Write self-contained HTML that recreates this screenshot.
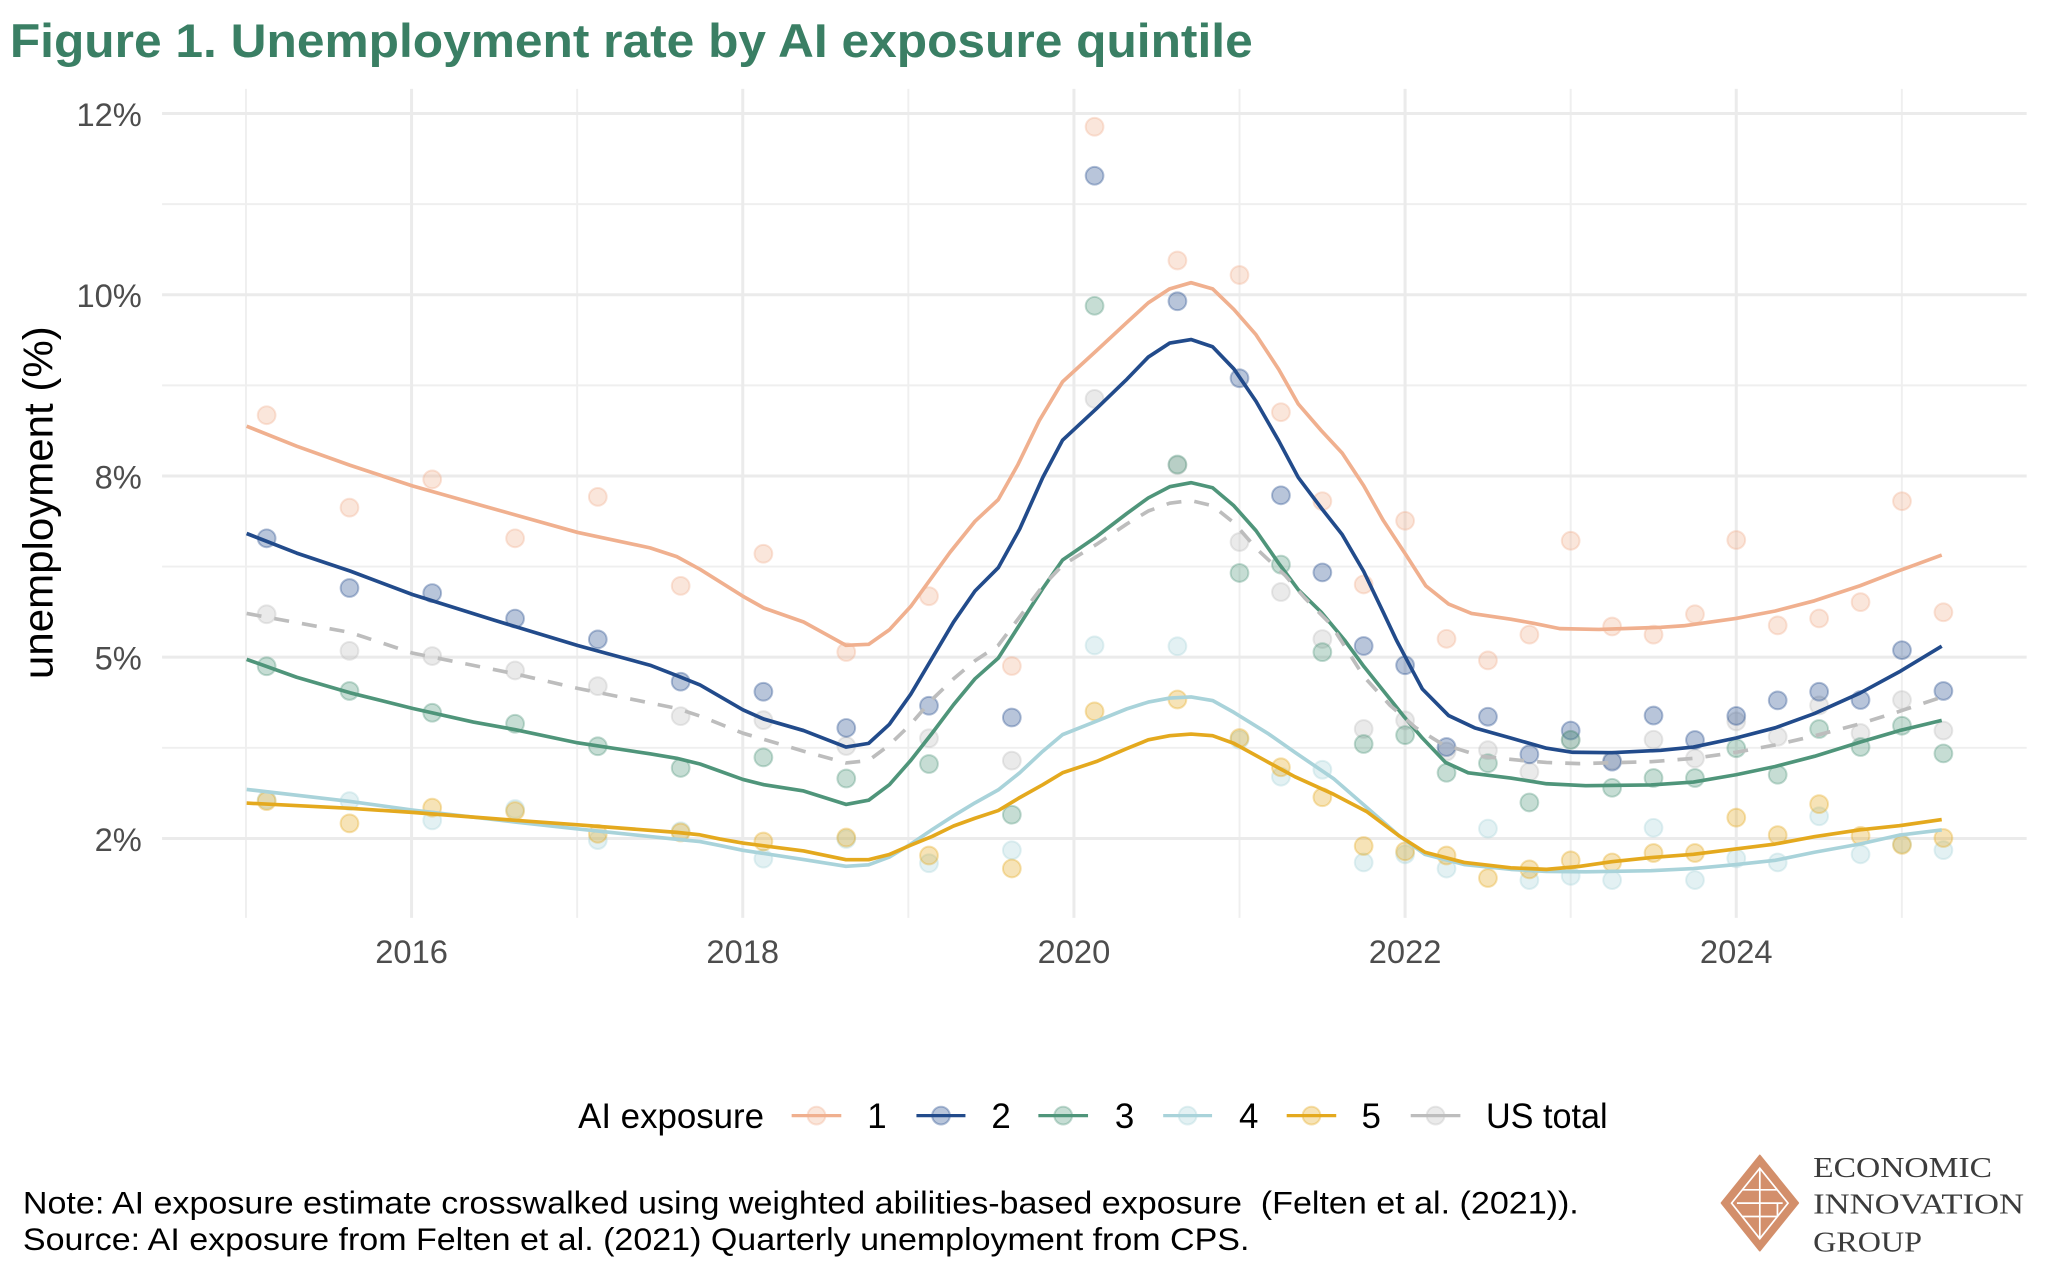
<!DOCTYPE html>
<html>
<head>
<meta charset="utf-8">
<style>
html,body{margin:0;padding:0;background:#fff;}
svg{display:block;}
.g1{stroke:#EBEBEB;stroke-width:2.3;}
.g2{stroke:#EFEFEF;stroke-width:1.5;}
.ax{font-family:"Liberation Sans",Arial,sans-serif;font-size:25px;fill:#4D4D4D;}
.ln{fill:none;stroke-width:2.8;stroke-linejoin:round;stroke-linecap:butt;}
.d1 circle{fill:#F0B08F;stroke:#F0B08F;}
.d2 circle{fill:#224B8B;stroke:#224B8B;}
.d3 circle{fill:#4F957A;stroke:#4F957A;}
.d4 circle{fill:#A9D3DA;stroke:#A9D3DA;}
.d5 circle{fill:#E4A91E;stroke:#E4A91E;}
.d6 circle{fill:#BDBDBD;stroke:#BDBDBD;}
.dd circle{fill-opacity:.32;stroke-opacity:.35;stroke-width:1.5;r:6.8px;}
</style>
</head>
<body>
<svg width="2048" height="1280" viewBox="0 0 1567 979.4" xmlns="http://www.w3.org/2000/svg">
<rect x="0" y="0" width="1567" height="979.4" fill="#fff"/>

<!-- Title -->
<text x="7.5" y="43.7" font-family="Liberation Sans, Arial, sans-serif" font-weight="bold" font-size="36" fill="#3A7F64" textLength="951" lengthAdjust="spacingAndGlyphs">Figure 1. Unemployment rate by AI exposure quintile</text>

<!-- Minor gridlines -->
<g class="g2">
<line x1="124" x2="1550.7" y1="156.2" y2="156.2"/>
<line x1="124" x2="1550.7" y1="294.9" y2="294.9"/>
<line x1="124" x2="1550.7" y1="433.5" y2="433.5"/>
<line x1="124" x2="1550.7" y1="572.2" y2="572.2"/>
<line y1="68" y2="702.3" x1="188.2" x2="188.2"/>
<line y1="68" y2="702.3" x1="441.6" x2="441.6"/>
<line y1="68" y2="702.3" x1="695" x2="695"/>
<line y1="68" y2="702.3" x1="948.4" x2="948.4"/>
<line y1="68" y2="702.3" x1="1201.8" x2="1201.8"/>
<line y1="68" y2="702.3" x1="1455.2" x2="1455.2"/>
</g>
<!-- Major gridlines -->
<g class="g1">
<line x1="124" x2="1550.7" y1="86.85" y2="86.85"/>
<line x1="124" x2="1550.7" y1="225.5" y2="225.5"/>
<line x1="124" x2="1550.7" y1="364.2" y2="364.2"/>
<line x1="124" x2="1550.7" y1="502.8" y2="502.8"/>
<line x1="124" x2="1550.7" y1="641.6" y2="641.6"/>
<line y1="68" y2="702.3" x1="314.9" x2="314.9"/>
<line y1="68" y2="702.3" x1="568.3" x2="568.3"/>
<line y1="68" y2="702.3" x1="821.7" x2="821.7"/>
<line y1="68" y2="702.3" x1="1075.1" x2="1075.1"/>
<line y1="68" y2="702.3" x1="1328.5" x2="1328.5"/>
</g>

<!-- Y axis labels -->
<g class="ax" text-anchor="end">
<text x="108.5" y="96.4">12%</text>
<text x="108.5" y="235">10%</text>
<text x="108.5" y="373.7">8%</text>
<text x="108.5" y="512.3">5%</text>
<text x="108.5" y="651">2%</text>
</g>
<!-- X axis labels -->
<g class="ax" text-anchor="middle">
<text x="314.9" y="737">2016</text>
<text x="568.3" y="737">2018</text>
<text x="821.7" y="737">2020</text>
<text x="1075.1" y="737">2022</text>
<text x="1328.5" y="737">2024</text>
</g>
<!-- Y axis title -->
<text transform="translate(40,384.6) rotate(-90)" text-anchor="middle" font-family="Liberation Sans, Arial, sans-serif" font-size="32" fill="#000" textLength="270" lengthAdjust="spacingAndGlyphs">unemployment (%)</text>

<!-- Dots -->
<g class="dd d6">
<circle r="6.8" cx="204.0" cy="470"/><circle r="6.8" cx="267.4" cy="498"/><circle r="6.8" cx="330.7" cy="502"/><circle r="6.8" cx="394.1" cy="513"/><circle r="6.8" cx="457.4" cy="525"/><circle r="6.8" cx="520.8" cy="548"/><circle r="6.8" cx="584.1" cy="551"/><circle r="6.8" cx="647.5" cy="570.8"/><circle r="6.8" cx="710.8" cy="564.9"/><circle r="6.8" cx="774.2" cy="582"/><circle r="6.8" cx="837.5" cy="305.2"/><circle r="6.8" cx="900.9" cy="356"/><circle r="6.8" cx="948.4" cy="414.7"/><circle r="6.8" cx="980.1" cy="453"/><circle r="6.8" cx="1011.8" cy="489"/><circle r="6.8" cx="1043.4" cy="557.8"/><circle r="6.8" cx="1075.1" cy="551.2"/><circle r="6.8" cx="1106.8" cy="575"/><circle r="6.8" cx="1138.5" cy="574"/><circle r="6.8" cx="1170.2" cy="590.6"/><circle r="6.8" cx="1201.8" cy="566"/><circle r="6.8" cx="1233.5" cy="581.8"/><circle r="6.8" cx="1265.2" cy="566"/><circle r="6.8" cx="1296.9" cy="580.3"/><circle r="6.8" cx="1328.5" cy="552"/><circle r="6.8" cx="1360.2" cy="563.7"/><circle r="6.8" cx="1391.9" cy="539.7"/><circle r="6.8" cx="1423.6" cy="560.9"/><circle r="6.8" cx="1455.3" cy="535.6"/><circle r="6.8" cx="1487.0" cy="559"/>
</g>
<g class="dd d1">
<circle r="6.8" cx="204.0" cy="317.7"/><circle r="6.8" cx="267.4" cy="388.4"/><circle r="6.8" cx="330.7" cy="366.8"/><circle r="6.8" cx="394.1" cy="411.9"/><circle r="6.8" cx="457.4" cy="380.2"/><circle r="6.8" cx="520.8" cy="448.3"/><circle r="6.8" cx="584.1" cy="423.7"/><circle r="6.8" cx="647.5" cy="498.9"/><circle r="6.8" cx="710.8" cy="456.2"/><circle r="6.8" cx="774.2" cy="509.6"/><circle r="6.8" cx="837.5" cy="97"/><circle r="6.8" cx="900.9" cy="199.3"/><circle r="6.8" cx="948.4" cy="210.4"/><circle r="6.8" cx="980.1" cy="315.4"/><circle r="6.8" cx="1011.8" cy="383.5"/><circle r="6.8" cx="1043.4" cy="447.2"/><circle r="6.8" cx="1075.1" cy="398.5"/><circle r="6.8" cx="1106.8" cy="488.8"/><circle r="6.8" cx="1138.5" cy="505.3"/><circle r="6.8" cx="1170.2" cy="485.6"/><circle r="6.8" cx="1201.8" cy="413.8"/><circle r="6.8" cx="1233.5" cy="479.4"/><circle r="6.8" cx="1265.2" cy="485.6"/><circle r="6.8" cx="1296.9" cy="470"/><circle r="6.8" cx="1328.5" cy="413.2"/><circle r="6.8" cx="1360.2" cy="478.5"/><circle r="6.8" cx="1391.9" cy="473.2"/><circle r="6.8" cx="1423.6" cy="460.7"/><circle r="6.8" cx="1455.3" cy="383.5"/><circle r="6.8" cx="1487.0" cy="468.5"/>
</g>
<g class="dd d2">
<circle r="6.8" cx="204.0" cy="411.9"/><circle r="6.8" cx="267.4" cy="449.9"/><circle r="6.8" cx="330.7" cy="453.8"/><circle r="6.8" cx="394.1" cy="473.3"/><circle r="6.8" cx="457.4" cy="489.2"/><circle r="6.8" cx="520.8" cy="521.6"/><circle r="6.8" cx="584.1" cy="529.3"/><circle r="6.8" cx="647.5" cy="557"/><circle r="6.8" cx="710.8" cy="540"/><circle r="6.8" cx="774.2" cy="549"/><circle r="6.8" cx="837.5" cy="134.5"/><circle r="6.8" cx="900.9" cy="230.5"/><circle r="6.8" cx="948.4" cy="289.4"/><circle r="6.8" cx="980.1" cy="379"/><circle r="6.8" cx="1011.8" cy="438"/><circle r="6.8" cx="1043.4" cy="494.3"/><circle r="6.8" cx="1075.1" cy="509"/><circle r="6.8" cx="1106.8" cy="571.6"/><circle r="6.8" cx="1138.5" cy="548.4"/><circle r="6.8" cx="1170.2" cy="577.2"/><circle r="6.8" cx="1201.8" cy="559"/><circle r="6.8" cx="1233.5" cy="582.8"/><circle r="6.8" cx="1265.2" cy="547.5"/><circle r="6.8" cx="1296.9" cy="566.2"/><circle r="6.8" cx="1328.5" cy="547.8"/><circle r="6.8" cx="1360.2" cy="535.9"/><circle r="6.8" cx="1391.9" cy="529.3"/><circle r="6.8" cx="1423.6" cy="535.6"/><circle r="6.8" cx="1455.3" cy="497.5"/><circle r="6.8" cx="1487.0" cy="528.7"/>
</g>
<g class="dd d3">
<circle r="6.8" cx="204.0" cy="509.8"/><circle r="6.8" cx="267.4" cy="528.7"/><circle r="6.8" cx="330.7" cy="545.4"/><circle r="6.8" cx="394.1" cy="553.8"/><circle r="6.8" cx="457.4" cy="571"/><circle r="6.8" cx="520.8" cy="587.6"/><circle r="6.8" cx="584.1" cy="579.5"/><circle r="6.8" cx="647.5" cy="595.7"/><circle r="6.8" cx="710.8" cy="584.6"/><circle r="6.8" cx="774.2" cy="623.4"/><circle r="6.8" cx="837.5" cy="234"/><circle r="6.8" cx="900.9" cy="355.4"/><circle r="6.8" cx="948.4" cy="438.4"/><circle r="6.8" cx="980.1" cy="432"/><circle r="6.8" cx="1011.8" cy="499"/><circle r="6.8" cx="1043.4" cy="569.3"/><circle r="6.8" cx="1075.1" cy="562.5"/><circle r="6.8" cx="1106.8" cy="591.3"/><circle r="6.8" cx="1138.5" cy="584"/><circle r="6.8" cx="1170.2" cy="614"/><circle r="6.8" cx="1201.8" cy="566.2"/><circle r="6.8" cx="1233.5" cy="602.8"/><circle r="6.8" cx="1265.2" cy="595.3"/><circle r="6.8" cx="1296.9" cy="595.3"/><circle r="6.8" cx="1328.5" cy="572.5"/><circle r="6.8" cx="1360.2" cy="592.8"/><circle r="6.8" cx="1391.9" cy="557.8"/><circle r="6.8" cx="1423.6" cy="571.6"/><circle r="6.8" cx="1455.3" cy="555.3"/><circle r="6.8" cx="1487.0" cy="576.5"/>
</g>
<g class="dd d4">
<circle r="6.8" cx="204.0" cy="612"/><circle r="6.8" cx="267.4" cy="613"/><circle r="6.8" cx="330.7" cy="627.7"/><circle r="6.8" cx="394.1" cy="619"/><circle r="6.8" cx="457.4" cy="642.8"/><circle r="6.8" cx="520.8" cy="636"/><circle r="6.8" cx="584.1" cy="657"/><circle r="6.8" cx="647.5" cy="642"/><circle r="6.8" cx="710.8" cy="660.5"/><circle r="6.8" cx="774.2" cy="650.6"/><circle r="6.8" cx="837.5" cy="493.8"/><circle r="6.8" cx="900.9" cy="494.5"/><circle r="6.8" cx="948.4" cy="566"/><circle r="6.8" cx="980.1" cy="594.3"/><circle r="6.8" cx="1011.8" cy="589"/><circle r="6.8" cx="1043.4" cy="659.9"/><circle r="6.8" cx="1075.1" cy="653.7"/><circle r="6.8" cx="1106.8" cy="664.6"/><circle r="6.8" cx="1138.5" cy="634"/><circle r="6.8" cx="1170.2" cy="673.4"/><circle r="6.8" cx="1201.8" cy="670.2"/><circle r="6.8" cx="1233.5" cy="673.4"/><circle r="6.8" cx="1265.2" cy="633.4"/><circle r="6.8" cx="1296.9" cy="673.4"/><circle r="6.8" cx="1328.5" cy="656.8"/><circle r="6.8" cx="1360.2" cy="659.9"/><circle r="6.8" cx="1391.9" cy="624.6"/><circle r="6.8" cx="1423.6" cy="653.7"/><circle r="6.8" cx="1455.3" cy="645.8"/><circle r="6.8" cx="1487.0" cy="650.5"/>
</g>
<g class="dd d5">
<circle r="6.8" cx="204.0" cy="613"/><circle r="6.8" cx="267.4" cy="630"/><circle r="6.8" cx="330.7" cy="618"/><circle r="6.8" cx="394.1" cy="620.6"/><circle r="6.8" cx="457.4" cy="638"/><circle r="6.8" cx="520.8" cy="637"/><circle r="6.8" cx="584.1" cy="643.9"/><circle r="6.8" cx="647.5" cy="640.8"/><circle r="6.8" cx="710.8" cy="654.6"/><circle r="6.8" cx="774.2" cy="664.5"/><circle r="6.8" cx="837.5" cy="544.3"/><circle r="6.8" cx="900.9" cy="535.2"/><circle r="6.8" cx="948.4" cy="564.7"/><circle r="6.8" cx="980.1" cy="587.1"/><circle r="6.8" cx="1011.8" cy="610"/><circle r="6.8" cx="1043.4" cy="647.3"/><circle r="6.8" cx="1075.1" cy="651.4"/><circle r="6.8" cx="1106.8" cy="654.6"/><circle r="6.8" cx="1138.5" cy="671.8"/><circle r="6.8" cx="1170.2" cy="665.2"/><circle r="6.8" cx="1201.8" cy="658.3"/><circle r="6.8" cx="1233.5" cy="659.9"/><circle r="6.8" cx="1265.2" cy="652.7"/><circle r="6.8" cx="1296.9" cy="652.7"/><circle r="6.8" cx="1328.5" cy="625.6"/><circle r="6.8" cx="1360.2" cy="639"/><circle r="6.8" cx="1391.9" cy="615.3"/><circle r="6.8" cx="1423.6" cy="639.6"/><circle r="6.8" cx="1455.3" cy="646.5"/><circle r="6.8" cx="1487.0" cy="641.2"/>
</g>

<!-- Smoothed lines -->
<polyline class="ln" stroke="#F0B08F" points="188.7,326.1 227,341.4 267.8,356 315.5,371.8 362.2,385 442,407.4 497.4,419.2 517.8,425.9 535.6,435.6 568.4,456.2 584.4,465.2 614.9,475.9 647.3,493.8 664.6,493 680.5,481.9 696.8,464.1 726.9,422.6 746,398.9 763.8,382.3 778.9,355.4 795.2,321.8 813,292.1 838.9,268.4 862.2,246.7 878.6,231.7 895,221 911.3,216.3 927.8,221 944.1,236.8 961,256.1 978.4,282.6 993.4,309.2 1011,329.5 1027,346.7 1043.4,371.6 1058.4,398.2 1075.9,424.8 1090.9,448.2 1108.4,462.2 1125.9,469.4 1155.9,473.8 1173.4,476.9 1193.4,481 1223.4,481.6 1270.8,480 1288.3,478.8 1328.3,473.2 1358.3,467.5 1388.3,459.7 1423.2,448.2 1453.3,436.6 1485.7,424.7"/>
<polyline class="ln" stroke="#224B8B" points="188.7,408.2 227,423.2 267.8,436.9 315.5,454.9 378,474.5 442,493.9 497.4,509 517.8,516.9 535.6,524.1 568.4,543.1 584.4,550.2 614.9,559 647.3,571.6 664.6,568.8 680.5,554.2 696.8,531.3 713.2,503.6 729.6,476 746,452.2 763.8,434.4 780.2,404.8 797.9,365.3 813,336.8 838.9,312.7 862.2,290.2 878.6,273.2 895,262.5 911.3,259.8 927.8,265.3 944.1,282.3 961,307 978.4,337.3 993.4,365.4 1011,388.8 1027,409.1 1043.4,437.2 1058.4,468.5 1068.4,489.7 1078.3,508.5 1088.3,527.2 1108.4,547.5 1128.3,556.9 1155.9,564.7 1183.3,572.5 1203.3,575.6 1233.3,575.9 1270.8,574.1 1295.7,571.6 1328.3,564.7 1358.3,556.9 1388.3,546 1423.2,530.3 1453.3,514 1485.7,494.4"/>
<polyline class="ln" stroke="#4F957A" points="188.7,504.5 227,518.2 267.8,530.1 315.5,542 362.2,552.5 394.2,558.3 442,568.4 497.4,576.8 517.8,580.2 535.6,584.6 568.4,596.4 584.4,600.4 614.9,605.2 647.3,615.5 664.6,612.3 680.5,600.4 696.8,581.9 713.2,561 729.6,539.2 746,519.4 763.8,503.6 780.2,477.9 797.9,450.2 813,428.5 838.9,410.7 862.2,392.9 878.6,381 895,372.4 911.3,369.3 927.8,373.2 944.1,387 961,406 978.4,431 993.4,451.3 1011,468.5 1028.7,489.7 1043.6,510 1058.6,528.7 1073.6,547.5 1088.3,564.7 1106.1,583.4 1123.4,591.3 1155.9,595.3 1183.3,599.7 1213.3,601.2 1263.3,600.6 1295.7,598.4 1328.3,592.8 1358.3,586.5 1388.3,578.7 1423.2,567.8 1453.3,559 1485.7,551.2"/>
<polyline class="ln" stroke="#A9D3DA" points="188.7,604 267.8,613.2 315.5,619.8 394.2,629 442,634.3 517.8,642.2 535.6,643.9 551,647 568.4,650.6 614.9,657.7 647.3,662.9 664.6,661.7 680.5,655.8 696.8,645.9 713.2,634.8 729.6,624.2 746,614.3 763.8,604.4 780.2,591.3 797.9,574.8 813,562.1 838.9,551.8 862.2,542.4 878.6,537.2 895,534.1 911.3,533.3 927.8,536 944.1,545.1 970.7,561.6 990.7,575.6 1020.5,595.9 1045.6,617.7 1070.6,639.6 1090.3,653.7 1120.3,661.5 1155.9,665.2 1183.3,666.8 1213.3,667.1 1263.3,666.2 1295.7,664.6 1328.3,661.5 1358.3,658.3 1388.3,652.1 1423.2,645.8 1453.3,639 1485.7,635"/>
<polyline class="ln" stroke="#E4A91E" points="188.7,614.5 267.8,618.5 315.5,621.6 394.2,627.7 442,631.1 517.8,636.9 535.6,638.8 551,642 568.4,645.1 614.9,651.1 647.3,657.8 664.6,657.8 680.5,653.8 696.8,646.7 713.2,640 729.6,632 746,626.1 763.8,620.2 780.2,610.3 797.9,600.4 813,591.3 838.9,582.7 862.2,572.8 878.6,566.1 895,562.9 911.3,561.7 927.8,562.9 944.1,568.8 970.7,583.4 990.7,594.3 1020.5,607.8 1045.6,620.9 1070.6,639.6 1090.3,652.1 1120.3,659.9 1155.9,664 1183.3,665.2 1208.3,663 1233.3,659.3 1263.3,656.2 1295.7,653.7 1328.3,649.6 1358.3,645.8 1388.3,640.2 1423.2,634.9 1453.3,631.8 1485.7,627.1"/>
<polyline class="ln" stroke="#BDBDBD" stroke-dasharray="11.5 10" points="188.7,469.4 267.8,483.9 315.5,499.7 394.2,515.6 442,526.7 517.8,542 535.6,547.9 551,554 568.4,561 614.9,574.8 647.3,583.8 664.6,581.9 680.5,570 696.8,554.2 713.2,535.2 729.6,519.4 746,505.6 763.8,493.8 780.2,472 797.9,448.3 813,432.5 838.9,416.6 862.2,400.9 878.6,391 895,385 911.3,383 927.8,387 944.1,400 961.6,420 983.4,440.4 998.3,457.5 1018.3,477.8 1043.6,517.8 1063.6,539.7 1083.4,556.9 1103.4,569.3 1133.4,578.7 1163.3,581.8 1183.3,583.4 1208.3,584.3 1263.3,582.8 1295.7,580.3 1328.3,575.6 1358.3,570 1388.3,563.1 1423.2,553.8 1453.3,544.3 1485.7,533.4"/>

<!-- Legend -->
<text x="442.3" y="863" font-family="Liberation Sans, Arial, sans-serif" font-size="26.7" fill="#000" textLength="142.3" lengthAdjust="spacingAndGlyphs">AI exposure</text>
<g class="dd d1"><circle r="6.8" cx="624.7" cy="853.6"/></g>
<line x1="605.7" x2="643.7" y1="853.6" y2="853.6" stroke="#F0B08F" stroke-width="2.5"/>
<g class="dd d2"><circle r="6.8" cx="720" cy="853.6"/></g>
<line x1="701.2" x2="738.7" y1="853.6" y2="853.6" stroke="#224B8B" stroke-width="2.5"/>
<g class="dd d3"><circle r="6.8" cx="813.5" cy="853.6"/></g>
<line x1="794.5" x2="832.5" y1="853.6" y2="853.6" stroke="#4F957A" stroke-width="2.5"/>
<g class="dd d4"><circle r="6.8" cx="908.7" cy="853.6"/></g>
<line x1="890" x2="927.4" y1="853.6" y2="853.6" stroke="#A9D3DA" stroke-width="2.5"/>
<g class="dd d5"><circle r="6.8" cx="1003.5" cy="853.6"/></g>
<line x1="984.5" x2="1022.4" y1="853.6" y2="853.6" stroke="#E4A91E" stroke-width="2.5"/>
<g class="dd d6"><circle r="6.8" cx="1098.4" cy="853.6"/></g>
<line x1="1079.4" x2="1117.4" y1="853.6" y2="853.6" stroke="#BDBDBD" stroke-width="2.5"/>
<g font-family="Liberation Sans, Arial, sans-serif" font-size="26.7" fill="#000" text-anchor="middle">
<text x="671" y="863">1</text>
<text x="766" y="863">2</text>
<text x="860.5" y="863">3</text>
<text x="955.4" y="863">4</text>
<text x="1049.2" y="863">5</text>
</g>
<text x="1137" y="863" font-family="Liberation Sans, Arial, sans-serif" font-size="26.7" fill="#000" textLength="93" lengthAdjust="spacingAndGlyphs">US total</text>

<!-- Notes -->
<text x="17.5" y="928.5" font-family="Liberation Sans, Arial, sans-serif" font-size="24" fill="#000" style="white-space:pre" xml:space="preserve" textLength="1190.5" lengthAdjust="spacingAndGlyphs">Note: AI exposure estimate crosswalked using weighted abilities-based exposure  (Felten et al. (2021)).</text>
<text x="17.5" y="956.5" font-family="Liberation Sans, Arial, sans-serif" font-size="24" fill="#000" textLength="938.5" lengthAdjust="spacingAndGlyphs">Source: AI exposure from Felten et al. (2021) Quarterly unemployment from CPS.</text>

<!-- Logo -->
<polygon points="1317.3,920.5 1346.5,884.2 1375.8,920.5 1346.5,956.8" fill="#D38F6B" stroke="#D38F6B" stroke-width="1.5" stroke-linejoin="round"/>
<polygon points="1324.9,920.6 1346.5,893.9 1368.1,920.6 1346.5,947.8" fill="none" stroke="#fff" stroke-width="1.3"/>
<g stroke="#fff" stroke-width="1.3" fill="none">
<line x1="1346.5" y1="893.9" x2="1346.5" y2="947.8"/>
<path d="M1333,910.4 H1346.5 M1329,920.6 H1346.5 M1333,930.8 H1346.5"/>
<path d="M1360,910.4 H1346.5 M1346.5,920.6 H1364 M1360,930.8 H1346.5 M1360,920.6 V930.8"/>
</g>
<g font-family="Liberation Serif, Times New Roman, serif" font-size="22" fill="#3C3C3C">
<text x="1387.3" y="900.6" textLength="136.9" lengthAdjust="spacingAndGlyphs">ECONOMIC</text>
<text x="1387.3" y="928.7" textLength="161.4" lengthAdjust="spacingAndGlyphs">INNOVATION</text>
<text x="1387.3" y="957.5" textLength="83.3" lengthAdjust="spacingAndGlyphs">GROUP</text>
</g>
</svg>
</body>
</html>
